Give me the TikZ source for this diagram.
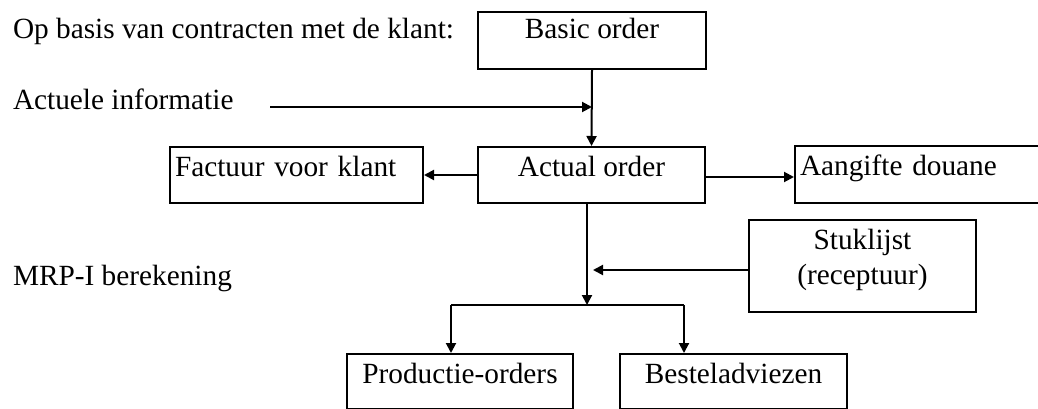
\documentclass[tikz,border=0pt]{standalone}
\usepackage{fontspec}
\setmainfont{Liberation Serif}
\usetikzlibrary{arrows.meta}

\begin{document}
\begin{tikzpicture}[
  x=1pt, y=-1pt,
  font=\fontsize{29.3pt}{35pt}\selectfont,
  line width=2pt,
  flow/.style={-{Triangle[length=10pt,width=10pt]}},
  box/.style={draw, rectangle, inner sep=0pt, anchor=base},
  leftbox/.style={draw, rectangle, inner xsep=5pt, inner ysep=0pt, align=left, anchor=base west},
  caption/.style={inner sep=0pt, anchor=base west}
]
  % page frame
  \clip (0,0) rectangle (1038,409);
  \useasboundingbox (0,0) rectangle (1038,409);

  % side captions
  \node[caption] (contract) at (12,39)  {Op basis van contracten met de klant:};
  \node[caption] (info)     at (12,110) {Actuele informatie};
  \node[caption] (mrp)      at (12,285) {MRP-I berekening};

  % boxes
  \node[box, minimum width=228pt, text height=27pt, text depth=30pt] (basic) at (592,39) {Basic order};
  \node[box, minimum width=227pt, text height=29pt, text depth=27pt] (actual) at (591.5,176) {Actual order};
  \node[leftbox, text width=243pt, text height=29pt, text depth=27pt] (factuur) at (169,176) {Factuur voor klant};
  \node[leftbox, text width=241pt, text height=29pt, text depth=28pt] (aangifte) at (794,175) {Aangifte douane};
  \node[box, minimum width=227pt, text height=29pt, text depth=63pt] (stuk) at (862.5,249)
    {\begin{tabular}[t]{@{}c@{}}Stuklijst\\(receptuur)\end{tabular}};
  \node[box, minimum width=226pt, text height=29pt, text depth=26.3pt] (prod) at (460,383) {Productie-orders};
  \node[box, minimum width=227pt, text height=29pt, text depth=26.3pt] (best) at (733.5,383) {Besteladviezen};

  % junction points
  \coordinate (infostart) at (270,107);
  \coordinate (aout) at ([yshift=-2pt]actual.east);
  \coordinate (mrpin) at (593,270);
  \coordinate (split) at (587,305);
  \coordinate (splitL) at (451,305);
  \coordinate (splitR) at (684,305);

  % connectors
  \draw[flow] (basic.south) -- (actual.north);
  \draw[flow] (infostart) -- (infostart -| basic.south);
  \draw[flow] (actual.west) -- (factuur.east |- actual.west);
  \draw[flow] (aout) -- (aangifte.west |- aout);
  \draw[flow] (actual.south -| split) -- (split);
  \draw[flow] (stuk.west |- mrpin) -- (mrpin);
  \draw (splitL) -- (splitR);
  \draw[flow] (splitL) -- (splitL |- prod.north);
  \draw[flow] (splitR) -- (splitR |- best.north);
\end{tikzpicture}
\end{document}
